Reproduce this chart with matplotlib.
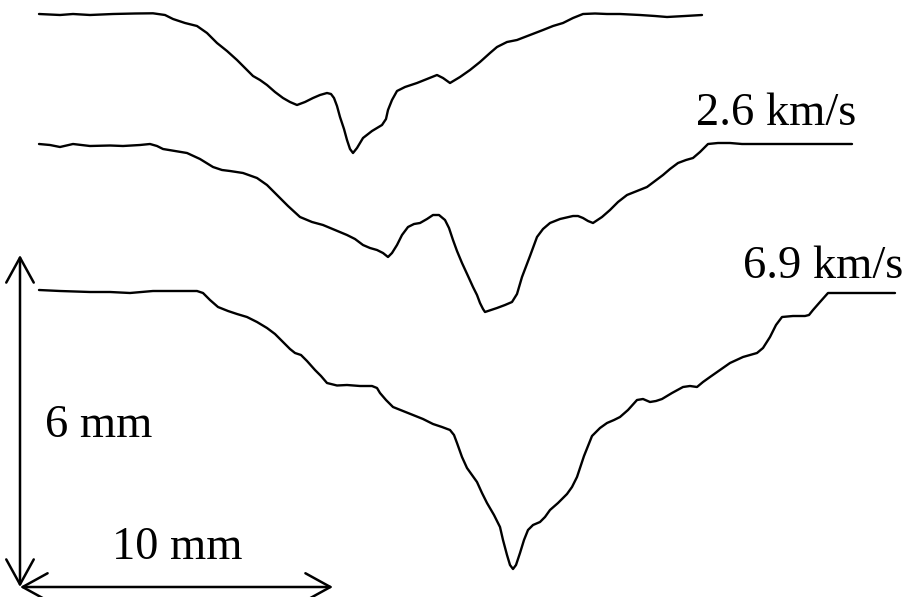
import matplotlib.pyplot as plt

# profile traces (image pixel coordinates, y down)
low_x = [39, 60, 73, 90, 113, 135, 153, 165, 173, 185, 197, 207, 217, 227, 237, 245,
         253, 260, 267, 275, 283, 290, 297, 305, 313, 320, 327, 331, 334, 337, 340, 344,
         347, 350, 353, 357, 363, 372, 382, 386, 388, 392, 397, 405, 417, 427, 437, 443,
         450, 460, 470, 480, 490, 497, 507, 517, 530, 543, 553, 563, 573, 583, 595, 607,
         620, 640, 655, 667, 685, 702]
low_y = [14, 15, 14, 15, 14, 13.5, 13.3, 15, 19, 23, 26, 33, 43, 51, 60, 68,
         76, 80, 85, 92, 98, 102, 105, 102, 98, 95, 93, 94, 98, 106, 117, 129,
         140, 149, 153, 148, 138, 131, 125, 119, 110, 100, 91, 87, 83, 79, 75, 78,
         83, 77, 70, 62, 53, 47, 42, 40, 35, 30, 26, 23, 18, 14, 13.5, 14,
         14, 15, 16, 17, 16, 15]

mid_x = [39, 50, 60, 73, 90, 110, 123, 140, 150, 157, 163, 175, 187, 200, 213, 222,
         230, 243, 257, 267, 277, 288, 300, 312, 323, 335, 347, 355, 363, 370, 377, 383,
         388, 392, 397, 402, 408, 414, 420, 427, 433, 439, 445, 449, 453, 457, 462, 468,
         473, 477, 480, 483, 485, 491, 497, 505, 512, 517, 522, 530, 537, 543, 550, 560,
         573, 578, 583, 588, 593, 602, 610, 618, 627, 637, 647, 655, 663, 670, 678, 686,
         693, 700, 708, 718, 730, 742, 753, 775, 797, 825, 852]
mid_y = [144, 145, 147, 144, 146, 145.5, 146, 145, 144, 146, 149, 151, 153, 159, 167, 170,
         171, 173, 178, 185, 195, 206, 217, 222, 225, 230, 235, 239, 245, 248, 250, 253,
         257, 253, 245, 235, 227, 224, 223, 219, 215, 215, 220, 228, 240, 251, 263, 276,
         287, 295, 303, 309, 312, 310, 308, 305, 302, 294, 277, 256, 237, 229, 223, 219,
         216, 216, 218, 221, 223, 217, 210, 202, 195, 191, 187, 181, 175, 169, 163, 160,
         158, 152, 144, 143, 143, 144, 144, 144, 144, 144, 144]

high_x = [39, 60, 90, 110, 130, 153, 175, 197, 203, 210, 218, 228, 237, 247, 257, 267,
          275, 283, 290, 295, 301, 307, 315, 321, 327, 337, 347, 360, 372, 377, 380, 386,
          393, 403, 413, 423, 433, 442, 450, 454, 457, 462, 467, 472, 477, 482, 487, 494,
          500, 503, 507, 510, 513, 516, 520, 524, 528, 533, 540, 545, 550, 558, 567, 572,
          577, 584, 592, 600, 607, 614, 620, 628, 637, 643, 650, 656, 662, 672, 683, 690,
          697, 703, 710, 720, 730, 743, 757, 763, 770, 776, 782, 793, 805, 809, 813, 820,
          828, 838, 847, 870, 895]
high_y = [290, 291, 292, 292, 293, 291, 291, 291, 293, 300, 307, 311, 314, 317, 322, 328,
          334, 342, 349, 353, 355, 361, 370, 376, 383, 385.5, 385, 386, 386, 388, 393, 400,
          407, 411, 415, 419, 424, 427, 430, 435, 443, 457, 468, 475, 482, 493, 503, 515,
          527, 540, 555, 565, 569, 565, 553, 540, 530, 525, 522, 517, 510, 503, 494, 487,
          477, 456, 436, 428, 423, 420, 417, 410, 400, 399, 402, 401, 399, 393, 387, 386,
          387, 382, 377, 370, 363, 357, 353, 348, 337, 325, 317, 316, 316, 315, 310, 302,
          293, 293, 293, 293, 293]

speed_labels = ["2.6 km/s", "6.9 km/s"]
speed_label_xy = [(696, 125), (743, 278)]
scale_labels = ["6 mm", "10 mm"]
scale_label_xy = [(45, 437), (112, 559)]

plt.rcParams["font.family"] = ["Liberation Serif", "DejaVu Serif"]

fig = plt.figure(figsize=(9.06, 5.97), dpi=100)
ax = fig.add_axes([0, 0, 1, 1])
ax.set_xlim(0, 906)
ax.set_ylim(597, 0)
ax.axis("off")

for xs, ys in [(low_x, low_y), (mid_x, mid_y), (high_x, high_y)]:
    ax.plot(xs, ys, color="black", lw=1.7, solid_joinstyle="round",
            solid_capstyle="round")

for txt, (tx, ty) in zip(speed_labels + scale_labels, speed_label_xy + scale_label_xy):
    ax.text(tx, ty, txt, fontsize=33.5, ha="left", va="baseline", color="black")

# scale arrows
arrow = dict(arrowstyle="<->, head_length=0.6, head_width=0.33", lw=1.8,
             color="black", mutation_scale=30, shrinkA=0, shrinkB=0)
ax.annotate("", xy=(20, 255), xytext=(20, 587), arrowprops=arrow)
ax.annotate("", xy=(333, 587), xytext=(20, 587), arrowprops=arrow)

fig.savefig("out.png", dpi=100)
plt.close(fig)
